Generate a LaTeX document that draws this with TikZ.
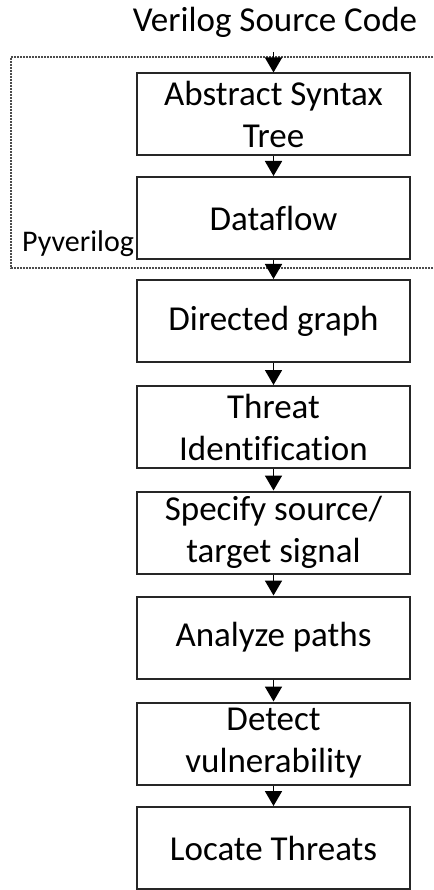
\documentclass[tikz,border=0pt]{standalone}
\usepackage{fontspec}
\setmainfont{Carlito}[Ligatures=CommonOff]
\usetikzlibrary{arrows.meta}
\tikzset{
  stepbox/.style={draw=black!85, line width=2pt, minimum width=273pt, minimum height=82pt, inner sep=0pt, align=center, font=\fontsize{35}{42}\selectfont, text=black},
  arr/.style={line width=1.8pt, -{Triangle[width=17pt,length=15pt]}},
  grp/.style={line width=1.6pt, black!70, dash pattern=on 1.6pt off 1.4pt}
}
\begin{document}
\begin{tikzpicture}[x=1pt,y=-1pt]
\useasboundingbox (0,0) rectangle (433,890);
\node[anchor=base, font=\fontsize{35}{42}\selectfont, inner sep=0pt] (title) at (275,32) {Verilog Source Code};
\draw[grp] (433,57) -- (11,57) -- (11,268) -- (433,268);
\node[stepbox] (b1) at (273.5,114.5) {Abstract Syntax\\Tree};
\node[stepbox] (b2) at (273.5,218) {Dataflow};
\node[anchor=base west, font=\fontsize{30}{36}\selectfont, inner sep=0pt] (pv) at (22,252) {Pyverilog};
\node[stepbox] (b3) at (273.5,321) {Directed graph};
\node[stepbox] (b4) at (273.5,427) {Threat\\Identification};
\node[stepbox] (b5) at (273.5,532.5) {Specify source/\\target signal};
\node[stepbox] (b6) at (273.5,637.5) {Analyze paths};
\node[stepbox] (b7) at (273.5,743.5) {Detect\\vulnerability};
\node[stepbox] (b8) at (273.5,848) {Locate Threats};
\coordinate (src) at (273.5,52);
\draw[arr] (src) -- (b1.north);
\draw[arr] (b1) -- (b2);
\draw[arr] (b2) -- (b3);
\draw[arr] (b3) -- (b4);
\draw[arr] (b4) -- (b5);
\draw[arr] (b5) -- (b6);
\draw[arr] (b6) -- (b7);
\draw[arr] (b7) -- (b8);
\end{tikzpicture}
\end{document}
